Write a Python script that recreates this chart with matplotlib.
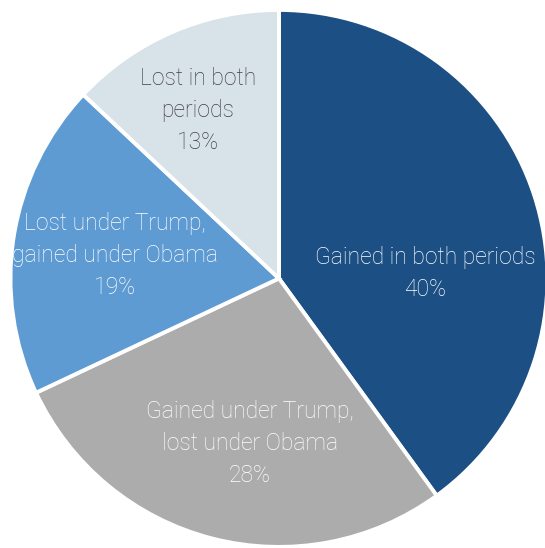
import matplotlib.pyplot as plt

# データ
labels = ["Gained in both periods", "Gained under Trump,\nlost under Obama",
          "Lost under Trump,\ngained under Obama", "Lost in both\nperiods"]
shares = [40, 28, 19, 13]
colors = ["#1c4f84", "#acacac", "#5f9bd3", "#d8e2e9"]
text_colors = ["white", "white", "white", "#404040"]
# ラベル位置 (データ座標)
label_pos = [(0.545, 0.018), (-0.108, -0.615), (-0.611, 0.085), (-0.302, 0.625)]

plt.rcParams["font.family"] = ["Roboto", "DejaVu Sans"]

fig = plt.figure(figsize=(5.45, 5.48), dpi=100)
ax = fig.add_axes([0, 0, 1, 1])

ax.pie(shares, colors=colors, startangle=90, counterclock=False,
       wedgeprops=dict(edgecolor="white", linewidth=2.8))

for lab, s, (x, y), c in zip(labels, shares, label_pos, text_colors):
    ax.text(x, y, f"{lab}\n{s}%", ha="center", va="center", color=c,
            fontsize=16.5, fontweight="light", linespacing=1.5)

ax.set_xlim(-1.039, 0.991)
ax.set_ylim(-1.004, 1.037)
ax.set_aspect("auto")
ax.axis("off")

fig.savefig("out.png", dpi=100)
